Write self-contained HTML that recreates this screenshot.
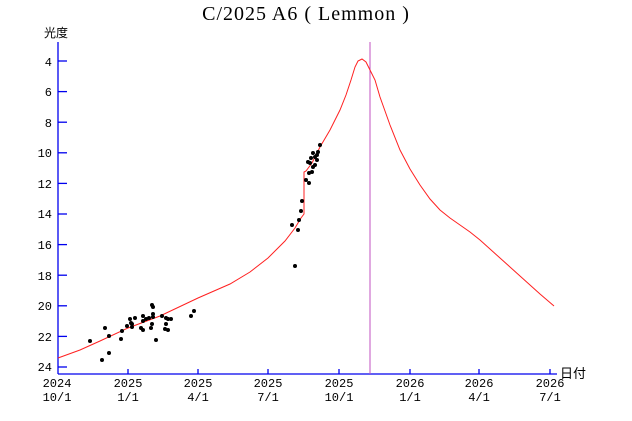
<!DOCTYPE html>
<html><head><meta charset="utf-8"><style>
html,body{margin:0;padding:0;background:#fff;}
svg{display:block;}
text{font-family:"Liberation Mono","Noto Sans CJK JP",monospace;font-size:12px;fill:#000;}
</style></head><body>
<svg width="632" height="421" viewBox="0 0 632 421">
<text x="306" y="20" text-anchor="middle" style="font-family:'Liberation Serif',serif;font-size:20px;letter-spacing:1px">C/2025 A6 ( Lemmon )</text>
<text x="44" y="37" style="font-family:'Liberation Sans','Noto Sans CJK JP',sans-serif;font-size:12px">光度</text>
<text x="560" y="378" style="font-family:'Liberation Sans','Noto Sans CJK JP',sans-serif;font-size:13px">日付</text>
<g stroke="#0000ee" stroke-width="1.3">
<line x1="58" y1="42" x2="58" y2="374"/>
<line x1="58" y1="374" x2="557" y2="374"/>
<line x1="58" y1="61" x2="67" y2="61"/>
<line x1="58" y1="91.6" x2="67" y2="91.6"/>
<line x1="58" y1="122.2" x2="67" y2="122.2"/>
<line x1="58" y1="152.8" x2="67" y2="152.8"/>
<line x1="58" y1="183.4" x2="67" y2="183.4"/>
<line x1="58" y1="214" x2="67" y2="214"/>
<line x1="58" y1="244.6" x2="67" y2="244.6"/>
<line x1="58" y1="275.2" x2="67" y2="275.2"/>
<line x1="58" y1="305.8" x2="67" y2="305.8"/>
<line x1="58" y1="336.4" x2="67" y2="336.4"/>
<line x1="58" y1="367" x2="67" y2="367"/>
<line x1="128" y1="369" x2="128" y2="374"/>
<line x1="198" y1="369" x2="198" y2="374"/>
<line x1="268" y1="369" x2="268" y2="374"/>
<line x1="339" y1="369" x2="339" y2="374"/>
<line x1="410" y1="369" x2="410" y2="374"/>
<line x1="479" y1="369" x2="479" y2="374"/>
<line x1="550" y1="369" x2="550" y2="374"/>
</g>
<line x1="370" y1="42" x2="370" y2="374" stroke="#c050c0" stroke-width="1"/>
<g text-anchor="end">
<text x="52" y="66">4</text><text x="52" y="96">6</text><text x="52" y="127">8</text>
<text x="52" y="157">10</text><text x="52" y="188">12</text><text x="52" y="218">14</text>
<text x="52" y="249">16</text><text x="52" y="280">18</text><text x="52" y="310">20</text>
<text x="52" y="341">22</text><text x="52" y="371">24</text>
</g>
<g text-anchor="middle">
<text x="57" y="387">2024</text><text x="57" y="401">10/1</text>
<text x="128" y="387">2025</text><text x="128" y="401">1/1</text>
<text x="198" y="387">2025</text><text x="198" y="401">4/1</text>
<text x="268" y="387">2025</text><text x="268" y="401">7/1</text>
<text x="339" y="387">2025</text><text x="339" y="401">10/1</text>
<text x="410" y="387">2026</text><text x="410" y="401">1/1</text>
<text x="479" y="387">2026</text><text x="479" y="401">4/1</text>
<text x="550" y="387">2026</text><text x="550" y="401">7/1</text>
</g>
<path d="M58,358 L80,350 L100,341 L128,328 L160,316 L198,298 L230,284 L250,272 L268,258 L285,241 L295,228 L301,218 L304,214 L304,172 L306,171 L312,163 L320,147 L330,130 L340,110 L346,95 L351,80 L355,67 L358,61 L362,59 L366,62 L370,70 L375,80 L380,97 L390,125 L400,150 L410,169 L420,185 L430,199 L440,210 L450,218 L460,225 L470,232 L480,240 L490,249 L500,258 L510,267 L520,276 L530,285 L540,294 L554,306" fill="none" stroke="#ff2020" stroke-width="1"/>
<g fill="#000">
<circle cx="90" cy="341" r="2"/><circle cx="102" cy="360" r="2"/><circle cx="105" cy="328" r="2"/>
<circle cx="109" cy="336" r="2"/><circle cx="109" cy="353" r="2"/><circle cx="121" cy="339" r="2"/>
<circle cx="122" cy="331" r="2"/><circle cx="127" cy="326" r="2"/><circle cx="130" cy="319" r="2"/>
<circle cx="131" cy="323" r="2"/><circle cx="132" cy="327" r="2"/><circle cx="132" cy="324" r="2"/>
<circle cx="135" cy="318" r="2"/><circle cx="141" cy="328" r="2"/><circle cx="143" cy="330" r="2"/>
<circle cx="143" cy="316" r="2"/><circle cx="143" cy="321" r="2"/><circle cx="146" cy="319" r="2"/>
<circle cx="149" cy="318" r="2"/><circle cx="151" cy="328" r="2"/><circle cx="152" cy="305" r="2"/>
<circle cx="153" cy="307" r="2"/><circle cx="152" cy="324" r="2"/><circle cx="153" cy="317" r="2"/>
<circle cx="153" cy="314" r="2"/><circle cx="156" cy="340" r="2"/><circle cx="162" cy="316" r="2"/>
<circle cx="166" cy="318" r="2"/><circle cx="166" cy="324" r="2"/><circle cx="165" cy="329" r="2"/>
<circle cx="168" cy="330" r="2"/><circle cx="168" cy="319" r="2"/><circle cx="171" cy="319" r="2"/>
<circle cx="191" cy="316" r="2"/><circle cx="194" cy="311" r="2"/>
<circle cx="320" cy="145" r="2"/><circle cx="313" cy="153" r="2"/><circle cx="317" cy="155" r="2"/>
<circle cx="318" cy="152" r="2"/><circle cx="317" cy="160" r="2"/><circle cx="313" cy="167" r="2"/>
<circle cx="315" cy="157" r="2"/><circle cx="311" cy="158" r="2"/>
<circle cx="308" cy="162" r="2"/><circle cx="310" cy="163" r="2"/><circle cx="315" cy="165" r="2"/>
<circle cx="312" cy="172" r="2"/><circle cx="309" cy="173" r="2"/><circle cx="306" cy="180" r="2"/>
<circle cx="309" cy="183" r="2"/><circle cx="302" cy="201" r="2"/><circle cx="301" cy="211" r="2"/>
<circle cx="299" cy="220" r="2"/><circle cx="292" cy="225" r="2"/><circle cx="298" cy="230" r="2"/>
<circle cx="295" cy="266" r="2"/>
</g>
</svg>
</body></html>
